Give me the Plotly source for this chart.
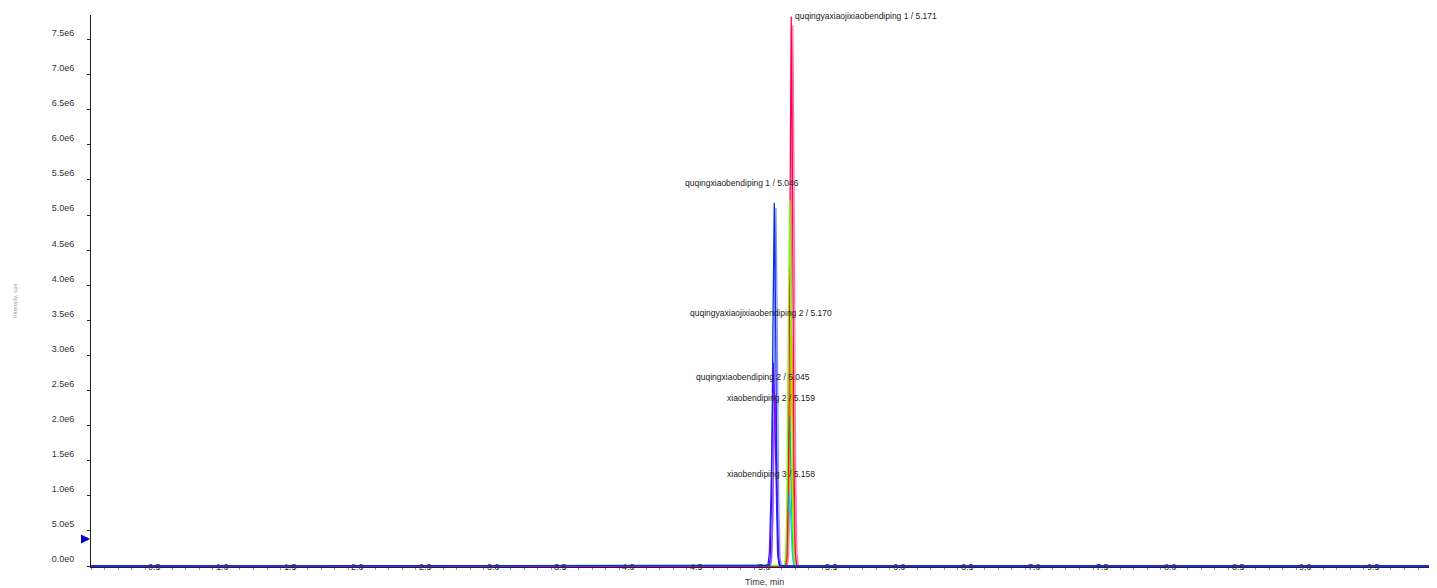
import plotly.graph_objects as go

# ---------------- data ----------------
x_tick_vals = [0.5, 1.0, 1.5, 2.0, 2.5, 3.0, 3.5, 4.0, 4.5, 5.0, 5.5, 6.0, 6.5, 7.0, 7.5, 8.0, 8.5, 9.0, 9.5]
x_tick_text = ["0.5", "1.0", "1.5", "2.0", "2.5", "3.0", "3.5", "4.0", "4.5", "5.0", "5.5", "6.0", "6.5", "7.0", "7.5", "8.0", "8.5", "9.0", "9.5"]
y_tick_vals = [0, 5e5, 1e6, 1.5e6, 2e6, 2.5e6, 3e6, 3.5e6, 4e6, 4.5e6, 5e6, 5.5e6, 6e6, 6.5e6, 7e6, 7.5e6]
y_tick_text = ["0.0e0", "5.0e5", "1.0e6", "1.5e6", "2.0e6", "2.5e6", "3.0e6", "3.5e6", "4.0e6", "4.5e6", "5.0e6", "5.5e6", "6.0e6", "6.5e6", "7.0e6", "7.5e6"]

pink_x = [0, 5.133, 5.143, 5.153, 5.163, 5.173, 5.183, 5.193, 5.203, 5.213, 5.223, 5.233, 9.94]
pink_y = [0, 0, 1.4e4, 1.8e5, 1.47e6, 5.08e6, 7.70e6, 5.08e6, 1.47e6, 1.8e5, 1.4e4, 0, 0]

yellow_x = [0, 5.120, 5.130, 5.140, 5.150, 5.160, 5.170, 5.180, 5.190, 5.200, 5.210, 5.220, 9.94]
yellow_y = [0, 0, 7e3, 9e4, 6.9e5, 2.40e6, 3.60e6, 2.40e6, 6.9e5, 9e4, 7e3, 0, 0]

orange_x = [0, 5.122, 5.132, 5.142, 5.152, 5.162, 5.172, 5.182, 5.192, 5.202, 5.212, 5.222, 9.94]
orange_y = [0, 0, 6e3, 8e4, 6.3e5, 2.20e6, 3.33e6, 2.20e6, 6.3e5, 8e4, 6e3, 0, 0]

lime_x = [0, 5.110, 5.120, 5.130, 5.140, 5.150, 5.160, 5.170, 5.180, 5.190, 5.200, 5.210, 9.94]
lime_y = [0, 0, 9e3, 1.25e5, 9.9e5, 3.44e6, 5.21e6, 3.44e6, 9.9e5, 1.25e5, 9e3, 0, 0]

spring_x = [0, 5.109, 5.119, 5.129, 5.139, 5.149, 5.159, 5.169, 5.179, 5.189, 5.199, 5.209, 9.94]
spring_y = [0, 0, 4e3, 5e4, 4.1e5, 1.41e6, 2.14e6, 1.41e6, 4.1e5, 5e4, 4e3, 0, 0]

cyan_x = [0, 5.108, 5.118, 5.128, 5.138, 5.148, 5.158, 5.168, 5.178, 5.188, 5.198, 5.208, 9.94]
cyan_y = [0, 0, 2e3, 2.5e4, 2.0e5, 6.9e5, 1.05e6, 6.9e5, 2.0e5, 2.5e4, 2e3, 0, 0]

red_x = [0, 5.121, 5.131, 5.141, 5.151, 5.161, 5.171, 5.181, 5.191, 5.201, 5.211, 5.221, 9.94]
red_y = [0, 0, 1.4e4, 1.9e5, 1.49e6, 5.17e6, 7.83e6, 5.17e6, 1.49e6, 1.9e5, 1.4e4, 0, 0]

magenta_x = [0, 5.002, 5.012, 5.022, 5.032, 5.042, 5.052, 5.062, 5.072, 5.082, 5.092, 5.102, 9.94]
magenta_y = [0, 0, 5e3, 6e4, 4.6e5, 1.61e6, 2.44e6, 1.61e6, 4.6e5, 6e4, 5e3, 0, 0]

peri_x = [0, 5.008, 5.018, 5.028, 5.038, 5.048, 5.058, 5.068, 5.078, 5.088, 5.098, 5.108, 9.94]
peri_y = [0, 0, 8e3, 1.2e5, 9.7e5, 3.37e6, 5.10e6, 3.37e6, 9.7e5, 1.2e5, 8e3, 0, 0]

violet_x = [0, 4.98, 4.99, 5.00, 5.01, 5.02, 5.03, 5.04, 5.05, 5.06, 5.07, 5.08, 5.09, 5.10, 9.94]
violet_y = [0, 0, 2e3, 2.6e4, 2.0e5, 9.0e5, 2.15e6, 2.90e6, 2.15e6, 9.0e5, 2.0e5, 2.6e4, 2e3, 0, 0]

blue_x = [0, 4.996, 5.006, 5.016, 5.026, 5.036, 5.046, 5.056, 5.066, 5.076, 5.086, 5.096, 9.94]
blue_y = [0, 0, 9e3, 1.2e5, 9.8e5, 3.41e6, 5.17e6, 3.41e6, 9.8e5, 1.2e5, 9e3, 0, 0]

peak_labels = ["quqingyaxiaojixiaobendiping 1 / 5.171", "quqingxiaobendiping 1 / 5.046",
               "quqingyaxiaojixiaobendiping 2 / 5.170", "quqingxiaobendiping 2 / 5.045",
               "xiaobendiping 2 / 5.159", "xiaobendiping 3 / 5.158"]
peak_label_x = [5.185, 4.81, 4.95, 4.89, 5.02, 5.02]
peak_label_y = [7.83e6, 5.46e6, 3.60e6, 2.69e6, 2.39e6, 1.31e6]
peak_label_anchor = ["left", "center", "center", "center", "center", "center"]

threshold_x = 0.0
threshold_y = 3.85e5

# ---------------- figure ----------------
traces = [
    (pink_x, pink_y, "rgba(255,90,140,0.85)"),
    (yellow_x, yellow_y, "#C8E000"),
    (orange_x, orange_y, "#FF8C00"),
    (spring_x, spring_y, "#00C864"),
    (cyan_x, cyan_y, "#00C8FF"),
    (red_x, red_y, "#FF0050"),
    (lime_x, lime_y, "#7CFC00"),
    (magenta_x, magenta_y, "#FF00FF"),
    (peri_x, peri_y, "rgba(110,110,255,0.8)"),
    (violet_x, violet_y, "#8000FF"),
    (blue_x, blue_y, "#0030E0"),
]

fig = go.Figure()
for xs, ys, col in traces:
    fig.add_trace(go.Scatter(x=xs, y=ys, mode="lines", line=dict(color=col, width=1.3),
                             hoverinfo="skip", showlegend=False))

# threshold arrow on the y axis
fig.add_annotation(x=threshold_x, y=threshold_y, ax=-8, ay=0, text="", showarrow=True,
                   arrowhead=2, arrowsize=0.6, arrowwidth=3, arrowcolor="#0000CC", standoff=1)

for t, xv, yv, anc in zip(peak_labels, peak_label_x, peak_label_y, peak_label_anchor):
    fig.add_annotation(x=xv, y=yv, text=t, showarrow=False, xanchor=anc, yanchor="middle",
                       font=dict(family="Liberation Sans, Arial", size=8.5, color="#222"))

for xv, tt in zip(x_tick_vals, x_tick_text):
    fig.add_annotation(x=xv, y=0, text=tt, showarrow=False, xanchor="center", yanchor="middle",
                       xshift=-4, yshift=-1,
                       font=dict(family="Liberation Sans, Arial", size=9, color="#333"))

fig.add_annotation(xref="paper", yref="paper", x=0.5, y=0, yshift=-15, text="Time, min",
                   showarrow=False, xanchor="center", yanchor="middle",
                   font=dict(family="Liberation Sans, Arial", size=9, color="#333"))
fig.add_annotation(xref="paper", yref="paper", x=0, y=0.5, xshift=-76, yshift=-10,
                   text="Intensity, cps", textangle=-90, showarrow=False,
                   xanchor="center", yanchor="middle",
                   font=dict(family="Liberation Sans, Arial", size=6, color="#999"))

# page body has an 8px margin, so the figure is drawn 8px smaller/offset
fig.update_layout(
    width=1429, height=580,
    margin=dict(l=83, r=0, t=7, b=21),
    paper_bgcolor="white", plot_bgcolor="white",
    xaxis=dict(range=[0, 9.94], showgrid=False, zeroline=False, showline=True,
               linecolor="#222", linewidth=1, tickvals=x_tick_vals, ticktext=[""] * len(x_tick_vals),
               ticks="outside", ticklen=2, tickcolor="#999",
               minor=dict(dtick=0.1, ticks="outside", ticklen=2, tickcolor="#999")),
    yaxis=dict(range=[-1.4e4, 7.85e6], showgrid=False, zeroline=False, showline=True,
               linecolor="#222", linewidth=1, tickvals=y_tick_vals, ticktext=y_tick_text,
               ticks="outside", ticklen=3, tickcolor="#222",
               ticklabelposition="outside top", ticklabelstandoff=14,
               tickfont=dict(family="Liberation Sans, Arial", size=9, color="#333")),
)

fig.write_html("out.html")
